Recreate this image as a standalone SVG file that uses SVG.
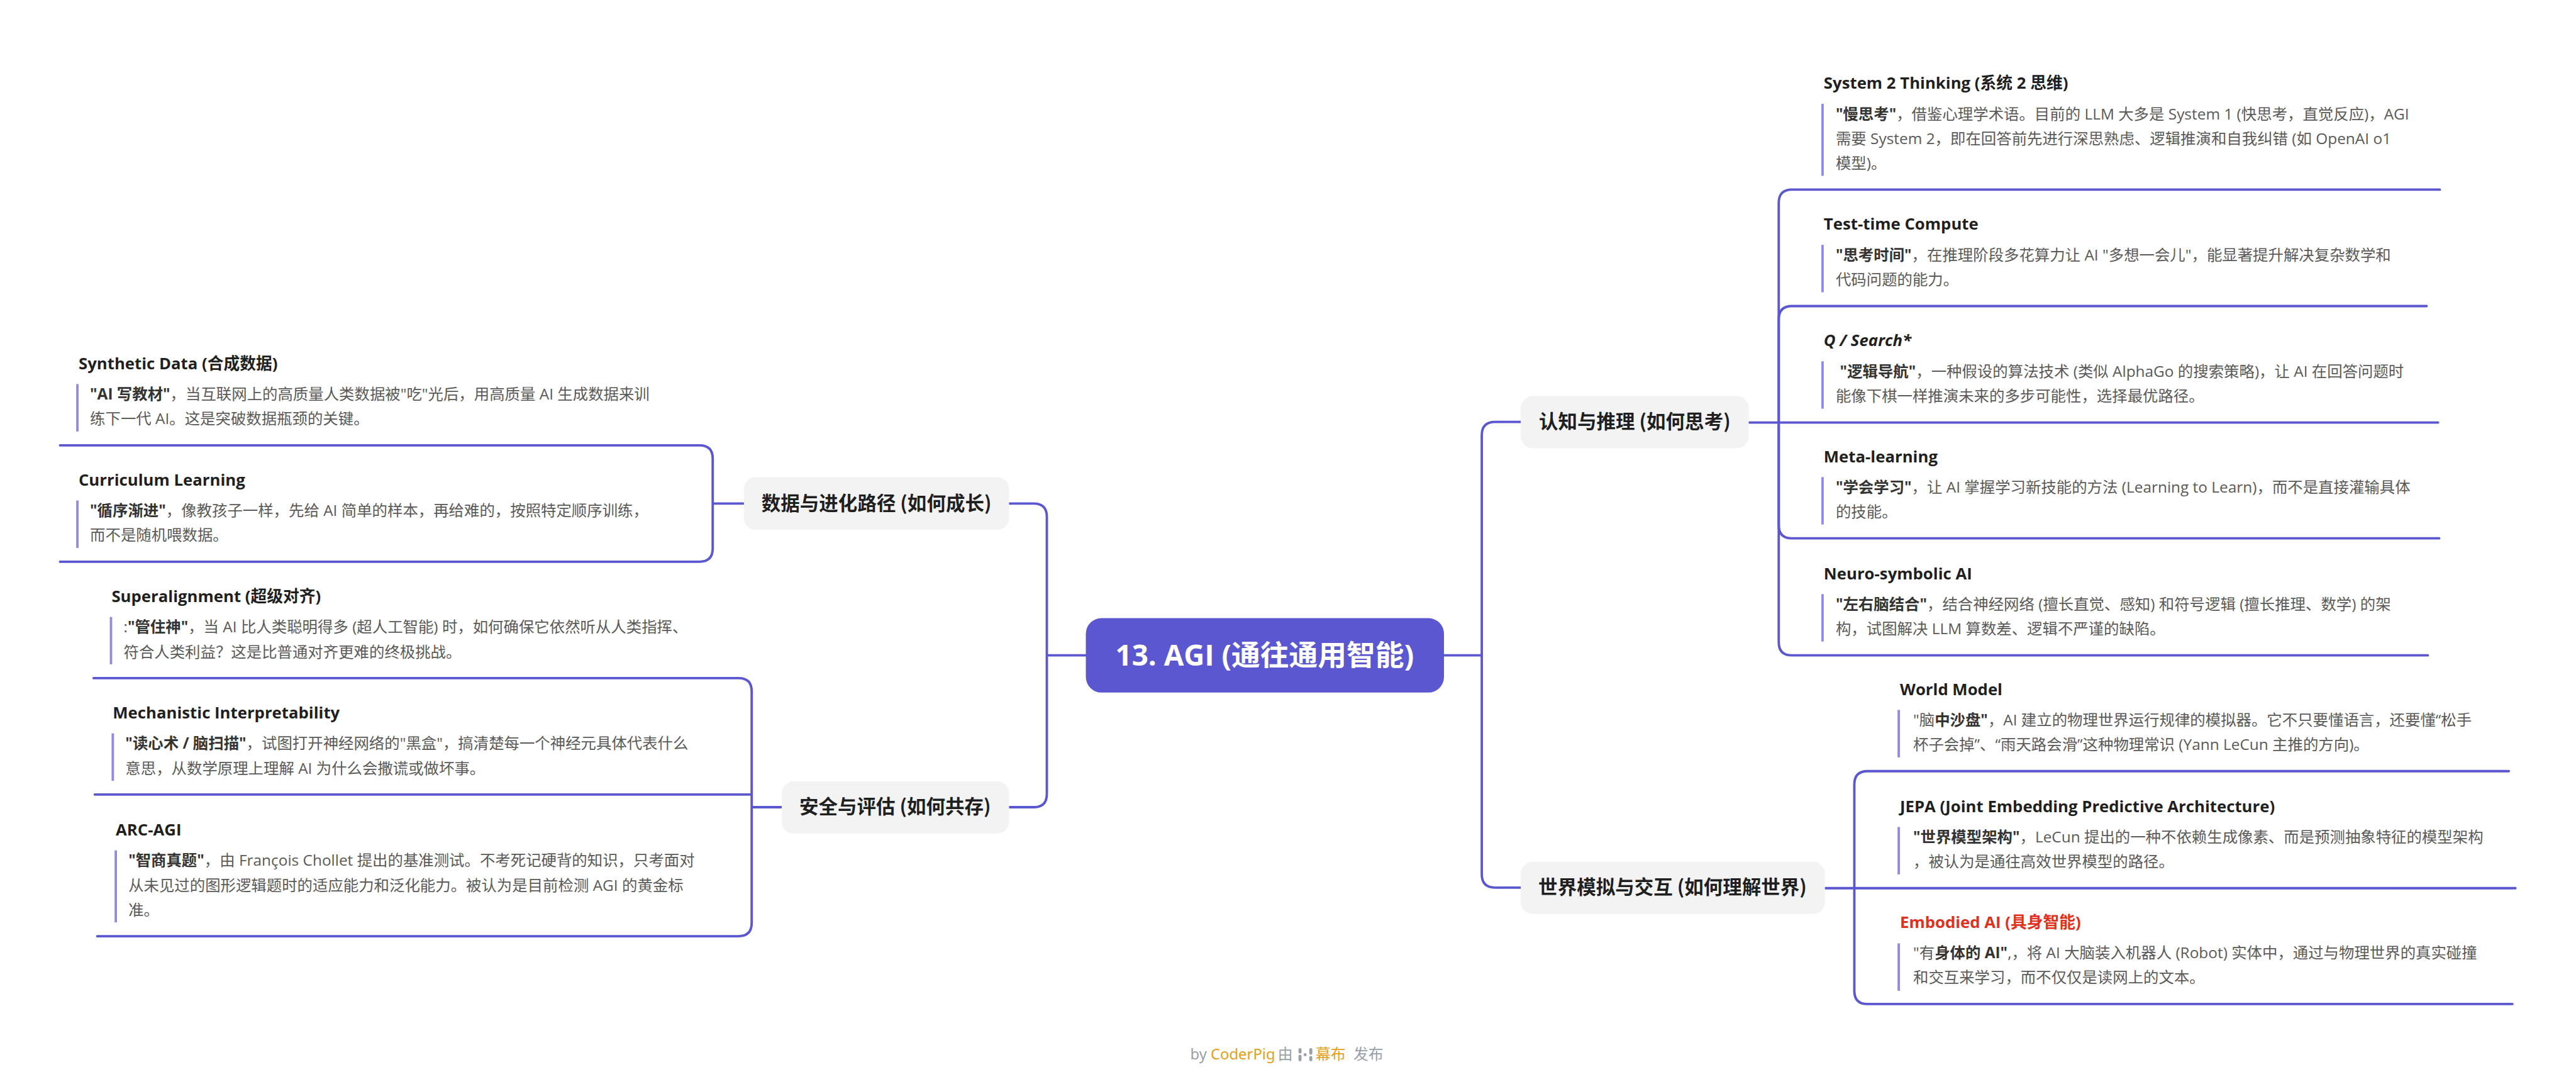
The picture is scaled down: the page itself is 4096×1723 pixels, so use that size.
<svg xmlns="http://www.w3.org/2000/svg" width="4096" height="1723" viewBox="0 0 4096 1723">
<style>
.t{font-family:"Open Sans","Noto Sans CJK SC",sans-serif;font-weight:700;font-size:27px;fill:#1f1f1f}
.d{font-family:"Open Sans","Noto Sans CJK SC",sans-serif;font-weight:400;font-size:25.6px;fill:#5a5a5a}
.b{font-weight:700;fill:#333333}
.bar{fill:#8e8be6}
.conn{fill:none;stroke:#5b57d1;stroke-width:4;stroke-linecap:round;stroke-linejoin:round}
.br{fill:#f3f3f3}
.bt{font-family:"Noto Sans CJK SC",sans-serif;font-weight:700;font-size:32px;fill:#1f1f1f;text-anchor:middle}
.ft{font-family:"Noto Sans","Noto Sans CJK SC",sans-serif;font-size:25px;fill:#98a0a9}
.or{fill:#e5a01a}
</style>
<rect width="4096" height="1723" fill="#ffffff"/>
<g transform="scale(0.9539)">
<g id="connectors" class="conn">
<path d="M2407,1092 H2470 M2470,1092 V725 Q2470,703 2492,703 H2535 M2470,1092 V1457 Q2470,1479 2492,1479 H2535"/>
<path d="M1810,1092 H1745 M1745,1092 V861 Q1745,839 1723,839 H1682 M1745,1092 V1323 Q1745,1345 1723,1345 H1682"/>
<path d="M2915,704 H4064"/>
<path d="M2965,704 V338 Q2965,316 2987,316 H4067"/>
<path d="M2965,704 V532 Q2965,510 2987,510 H4045"/>
<path d="M2965,704 V875 Q2965,897 2987,897 H4066"/>
<path d="M2965,704 V1070 Q2965,1092 2987,1092 H4047"/>
<path d="M3042,1480 H4193"/>
<path d="M3091,1480 V1307 Q3091,1285 3113,1285 H4182"/>
<path d="M3091,1480 V1651 Q3091,1673 3113,1673 H4188"/>
<path d="M1240,839 H1188 M1188,839 V764 Q1188,742 1166,742 H100 M1188,839 V914 Q1188,936 1166,936 H100"/>
<path d="M1303,1345 H1253 M1253,1345 V1152 Q1253,1130 1231,1130 H156 M1253,1345 V1324 H158 M1253,1345 V1538 Q1253,1560 1231,1560 H162"/>
</g>

<g id="root">
<rect x="1810" y="1030" width="597" height="124" rx="26" fill="#5b57d1"/>
<text x="2108" y="1109" font-family="Open Sans, Noto Sans CJK SC, sans-serif" font-weight="700" font-size="48" fill="#ffffff" text-anchor="middle">13. AGI (通往通用智能)</text>
</g>

<g id="branch-cognition">
<rect class="br" x="2535" y="660" width="380" height="87" rx="20"/>
<text class="bt" x="2725" y="714">认知与推理 (如何思考)</text>
</g>
<g id="branch-world">
<rect class="br" x="2535" y="1436" width="507" height="87" rx="20"/>
<text class="bt" x="2788" y="1490">世界模拟与交互 (如何理解世界)</text>
</g>
<g id="branch-data">
<rect class="br" x="1240" y="795" width="442" height="88" rx="20"/>
<text class="bt" x="1461" y="850">数据与进化路径 (如何成长)</text>
</g>
<g id="branch-safety">
<rect class="br" x="1303" y="1302" width="379" height="87" rx="20"/>
<text class="bt" x="1492" y="1356">安全与评估 (如何共存)</text>
</g>

<g id="leaf-system2">
<text class="t" x="3040" y="148">System 2 Thinking (系统 2 思维)</text>
<rect class="bar" x="3036" y="173" width="4" height="120"/>
<text class="d" x="3060" y="199"><tspan class="b">"慢思考"</tspan>，借鉴心理学术语。目前的 LLM 大多是 System 1 (快思考，直觉反应)，AGI</text>
<text class="d" x="3060" y="240">需要 System 2，即在回答前先进行深思熟虑、逻辑推演和自我纠错 (如 OpenAI o1</text>
<text class="d" x="3060" y="281">模型)。</text>
</g>
<g id="leaf-testtime">
<text class="t" x="3040" y="383">Test-time Compute</text>
<rect class="bar" x="3036" y="408" width="4" height="79"/>
<text class="d" x="3060" y="434"><tspan class="b">"思考时间"</tspan>，在推理阶段多花算力让 AI "多想一会儿"，能显著提升解决复杂数学和</text>
<text class="d" x="3060" y="475">代码问题的能力。</text>
</g>
<g id="leaf-qsearch">
<text class="t" x="3040" y="577" font-style="italic">Q / Search*</text>
<rect class="bar" x="3036" y="602" width="4" height="79"/>
<text class="d" x="3067" y="628"><tspan class="b">"逻辑导航"</tspan>，一种假设的算法技术 (类似 AlphaGo 的搜索策略)，让 AI 在回答问题时</text>
<text class="d" x="3060" y="669">能像下棋一样推演未来的多步可能性，选择最优路径。</text>
</g>
<g id="leaf-meta">
<text class="t" x="3040" y="770">Meta-learning</text>
<rect class="bar" x="3036" y="795" width="4" height="79"/>
<text class="d" x="3060" y="821"><tspan class="b">"学会学习"</tspan>，让 AI 掌握学习新技能的方法 (Learning to Learn)，而不是直接灌输具体</text>
<text class="d" x="3060" y="862">的技能。</text>
</g>
<g id="leaf-neuro">
<text class="t" x="3040" y="965">Neuro-symbolic AI</text>
<rect class="bar" x="3036" y="990" width="4" height="79"/>
<text class="d" x="3060" y="1016"><tspan class="b">"左右脑结合"</tspan>，结合神经网络 (擅长直觉、感知) 和符号逻辑 (擅长推理、数学) 的架</text>
<text class="d" x="3060" y="1057">构，试图解决 LLM 算数差、逻辑不严谨的缺陷。</text>
</g>

<g id="leaf-worldmodel">
<text class="t" x="3167" y="1158">World Model</text>
<rect class="bar" x="3163" y="1183" width="4" height="79"/>
<text class="d" x="3189" y="1209">"脑<tspan class="b">中沙盘"</tspan>，AI 建立的物理世界运行规律的模拟器。它不只要懂语言，还要懂“松手</text>
<text class="d" x="3189" y="1250">杯子会掉”、“雨天路会滑”这种物理常识 (Yann LeCun 主推的方向)。</text>
</g>
<g id="leaf-jepa">
<text class="t" x="3167" y="1353">JEPA (Joint Embedding Predictive Architecture)</text>
<rect class="bar" x="3163" y="1378" width="4" height="79"/>
<text class="d" x="3189" y="1404"><tspan class="b">"世界模型架构"</tspan>，LeCun 提出的一种不依赖生成像素、而是预测抽象特征的模型架构</text>
<text class="d" x="3189" y="1445">，被认为是通往高效世界模型的路径。</text>
</g>
<g id="leaf-embodied">
<text class="t" x="3167" y="1546" style="fill:#e0311f">Embodied AI (具身智能)</text>
<rect class="bar" x="3163" y="1572" width="4" height="79"/>
<text class="d" x="3189" y="1597">"有<tspan class="b">身体的 AI"</tspan>,，将 AI 大脑装入机器人 (Robot) 实体中，通过与物理世界的真实碰撞</text>
<text class="d" x="3189" y="1638">和交互来学习，而不仅仅是读网上的文本。</text>
</g>

<g id="leaf-synthetic">
<text class="t" x="131" y="615">Synthetic Data (合成数据)</text>
<rect class="bar" x="127" y="640" width="4" height="79"/>
<text class="d" x="150" y="666"><tspan class="b">"AI 写教材"</tspan>，当互联网上的高质量人类数据被"吃"光后，用高质量 AI 生成数据来训</text>
<text class="d" x="150" y="707">练下一代 AI。这是突破数据瓶颈的关键。</text>
</g>
<g id="leaf-curriculum">
<text class="t" x="131" y="809">Curriculum Learning</text>
<rect class="bar" x="127" y="834" width="4" height="79"/>
<text class="d" x="150" y="860"><tspan class="b">"循序渐进"</tspan>，像教孩子一样，先给 AI 简单的样本，再给难的，按照特定顺序训练，</text>
<text class="d" x="150" y="901">而不是随机喂数据。</text>
</g>
<g id="leaf-superalignment">
<text class="t" x="186" y="1003">Superalignment (超级对齐)</text>
<rect class="bar" x="183" y="1028" width="4" height="79"/>
<text class="d" x="206" y="1054">:<tspan class="b">"管住神"</tspan>，当 AI 比人类聪明得多 (超人工智能) 时，如何确保它依然听从人类指挥、</text>
<text class="d" x="206" y="1095">符合人类利益？这是比普通对齐更难的终极挑战。</text>
</g>
<g id="leaf-mech">
<text class="t" x="188" y="1197">Mechanistic Interpretability</text>
<rect class="bar" x="186" y="1222" width="4" height="79"/>
<text class="d" x="209" y="1248"><tspan class="b">"读心术 / 脑扫描"</tspan>，试图打开神经网络的"黑盒"，搞清楚每一个神经元具体代表什么</text>
<text class="d" x="209" y="1289">意思，从数学原理上理解 AI 为什么会撒谎或做坏事。</text>
</g>
<g id="leaf-arc">
<text class="t" x="193" y="1392">ARC-AGI</text>
<rect class="bar" x="191" y="1417" width="4" height="120"/>
<text class="d" x="214" y="1443"><tspan class="b">"智商真题"</tspan>，由 François Chollet 提出的基准测试。不考死记硬背的知识，只考面对</text>
<text class="d" x="214" y="1484">从未见过的图形逻辑题时的适应能力和泛化能力。被认为是目前检测 AGI 的黄金标</text>
<text class="d" x="214" y="1525">准。</text>
</g>

<g id="footer">
<text class="ft" x="1984" y="1765">by <tspan class="or" x="2018">CoderPig</tspan><tspan x="2130">由</tspan><tspan class="or" x="2193">幕布</tspan><tspan x="2256">发布</tspan></text>
<g fill="#98a0a9" stroke="#98a0a9" stroke-linecap="round">
<line x1="2167" y1="1749" x2="2167" y2="1753" stroke-width="5"/>
<line x1="2167" y1="1760" x2="2167" y2="1766" stroke-width="5"/>
<circle cx="2175.5" cy="1757.5" r="2.5" stroke="none"/>
<line x1="2185" y1="1749" x2="2185" y2="1755" stroke-width="5"/>
<line x1="2185" y1="1762" x2="2185" y2="1766" stroke-width="5"/>
</g>
</g>
</g>
</svg>
